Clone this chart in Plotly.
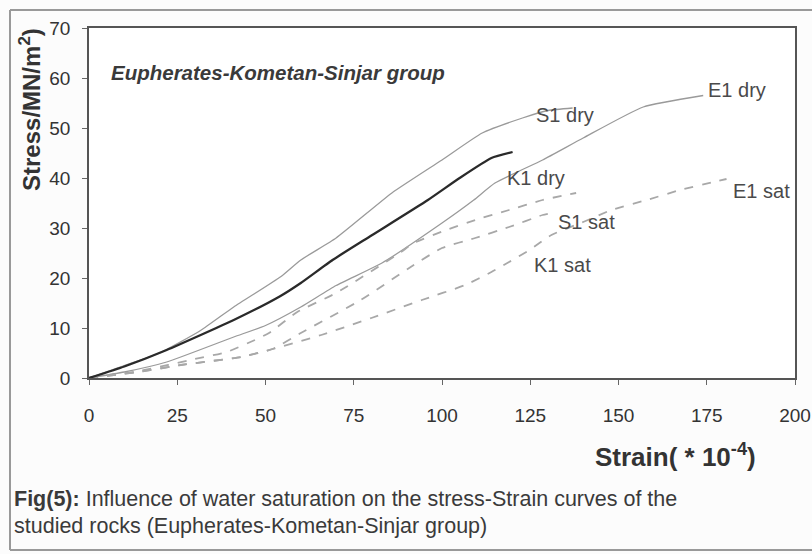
import plotly.graph_objects as go

# ---- data (strain *10^-4, stress MN/m^2) ----
s1_dry_x = [0, 10, 20, 31.6, 41, 54.4, 60, 70, 85.8, 100, 111.4, 122.8, 130, 137]
s1_dry_y = [0, 2.5, 5, 9.5, 14.2, 20.3, 23.6, 28, 37, 43.6, 49, 52, 53.5, 54]

k1_dry_x = [0, 10, 22, 41, 54, 60, 69, 80, 96, 105, 114, 120]
k1_dry_y = [0, 2.3, 5.6, 11.6, 16.3, 19, 23.6, 28.5, 35.6, 40, 44, 45.2]

e1_dry_x = [0, 10, 22, 41, 50, 60, 70, 83, 100, 109, 115, 128.5, 140, 157, 174]
e1_dry_y = [0, 1.2, 3.2, 8.2, 10.5, 14.2, 18.5, 23, 31, 35.6, 39, 43.6, 48, 54.2, 56.5]

s1_sat_x = [0, 15, 30, 39, 47, 51, 59, 70, 88, 92, 102, 109.4, 119, 128.5, 138]
s1_sat_y = [0, 1.5, 3.8, 5.2, 7.6, 9, 13.2, 17, 25, 27, 29.8, 31.6, 33.6, 35.6, 37]

k1_sat_x = [0, 15, 26, 43, 52, 60, 77, 92, 100, 109.4, 119, 128.5, 131]
k1_sat_y = [0, 1.3, 2.6, 4.2, 5.8, 9, 15.6, 22.6, 26, 28, 30.2, 32.6, 33]

e1_sat_x = [0, 15, 26, 43, 52, 65.8, 80, 94.3, 106.6, 114, 119, 124.8, 131, 140, 148, 158, 167.5, 177, 180.6]
e1_sat_y = [0, 1.3, 2.6, 4.2, 5.8, 8.6, 12, 15.6, 18.6, 21.2, 23.2, 25.6, 28.6, 31.2, 33.6, 35.6, 37.6, 39.2, 39.8]

label_text = ["S1 dry", "K1 dry", "E1 dry", "S1 sat", "K1 sat", "E1 sat"]
label_x = [134.8, 126.5, 183.5, 140.8, 134.2, 190.4]
label_y = [52.6, 40, 57.6, 31.2, 22.6, 37.4]

x_ticks = [0, 25, 50, 75, 100, 125, 150, 175, 200]
y_ticks = [0, 10, 20, 30, 40, 50, 60, 70]

FONT = "Liberation Sans, Arial, sans-serif"

fig = go.Figure()

def add(x, y, color, width, dash):
    fig.add_trace(go.Scatter(x=x, y=y, mode="lines", line=dict(color=color, width=width, dash=dash, shape="spline", smoothing=0.5),
                             showlegend=False, hoverinfo="skip"))

add(s1_dry_x, s1_dry_y, "#9a9a9a", 1.3, "solid")
add(e1_dry_x, e1_dry_y, "#9a9a9a", 1.3, "solid")
add(s1_sat_x, s1_sat_y, "#a8a8a8", 1.8, "dash")
add(k1_sat_x, k1_sat_y, "#a8a8a8", 1.8, "dash")
add(e1_sat_x, e1_sat_y, "#a8a8a8", 1.8, "dash")
add(k1_dry_x, k1_dry_y, "#2a2a2a", 2.3, "solid")

annotations = []
for t, xx, yy in zip(label_text, label_x, label_y):
    annotations.append(dict(x=xx, y=yy, xref="x", yref="y", text=t, showarrow=False,
                            xanchor="center", yanchor="middle",
                            font=dict(family=FONT, size=20, color="#4a4a4a")))

annotations.append(dict(x=5.8, y=61.2, xref="x", yref="y", xanchor="left", yanchor="middle",
                        text="<b><i>Eupherates-Kometan-Sinjar group</i></b>",
                        showarrow=False, font=dict(family=FONT, size=20.5, color="#3a3a3a")))

def px(xp):
    return (xp - 89) / 706.0

def py(yp):
    return (378 - yp) / 350.0

annotations.append(dict(x=px(30), y=py(110), xref="paper", yref="paper", xanchor="center", yanchor="middle",
                        text="<b>Stress/MN/m<sup>2</sup>)</b>",
                        textangle=-90, showarrow=False, font=dict(family=FONT, size=24, color="#333333")))
annotations.append(dict(x=px(675), y=py(455), xref="paper", yref="paper", xanchor="center", yanchor="middle",
                        text="<b>Strain( * 10<sup>-4</sup>)</b>",
                        showarrow=False, font=dict(family=FONT, size=26, color="#333333")))
annotations.append(dict(x=px(12), y=py(499), xref="paper", yref="paper", xanchor="left", yanchor="middle",
                        text="<b>Fig(5):</b> Influence of water saturation on the stress-Strain curves of the",
                        showarrow=False, font=dict(family=FONT, size=21.5, color="#3a3a3a")))
annotations.append(dict(x=px(12), y=py(526), xref="paper", yref="paper", xanchor="left", yanchor="middle",
                        text="studied rocks (Eupherates-Kometan-Sinjar group)",
                        showarrow=False, font=dict(family=FONT, size=21.5, color="#3a3a3a")))

shapes = [
    dict(type="line", xref="paper", yref="paper", x0=px(10), x1=px(10), y0=py(10), y1=py(550), line=dict(color="#999999", width=2)),
    dict(type="line", xref="paper", yref="paper", x0=px(10), x1=px(815), y0=py(10), y1=py(10), line=dict(color="#999999", width=2)),
    dict(type="line", xref="paper", yref="paper", x0=px(10), x1=px(815), y0=py(550), y1=py(550), line=dict(color="#999999", width=2)),
]

fig.update_layout(
    width=812, height=554,
    margin=dict(l=89, r=17, t=28, b=176, autoexpand=False),
    paper_bgcolor="#fcfcfc", plot_bgcolor="#ffffff",
    annotations=annotations, shapes=shapes,
    font=dict(family=FONT),
)
fig.update_xaxes(range=[0, 200], tickvals=x_ticks, ticks="outside", ticklen=5, tickcolor="#666",
                 showline=True, linecolor="#555", linewidth=1.6, mirror=True, showgrid=False, zeroline=False,
                 tickfont=dict(family=FONT, size=19, color="#333"), ticklabelstandoff=14)
fig.update_yaxes(range=[0, 70], tickvals=y_ticks, ticks="outside", ticklen=5, tickcolor="#666",
                 showline=True, linecolor="#555", linewidth=1.6, mirror=True, showgrid=False, zeroline=False,
                 tickfont=dict(family=FONT, size=19, color="#333"), ticklabelstandoff=8)

fig.write_html("out.html", config={"displayModeBar": False},
               post_script="document.body.style.margin='0px';document.body.style.overflow='hidden';")
